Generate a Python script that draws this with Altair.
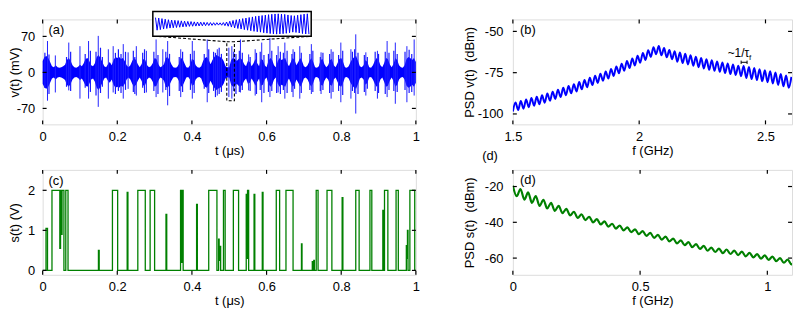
import altair as alt
import pandas as pd
import numpy as np

FONT = "Liberation Sans"
BLUE = "#0000ff"
GREEN = "#008000"

# ---------------- panel (a): v(t) ----------------
a_step = 0.005  # sampling of the envelope (us)
a_amp = [22, 30, 32, 28, 20, 12, 10, 14, 10, 9,
         10, 12, 15, 24, 28, 22, 14, 10, 9, 11,
         15, 12, 18, 26, 28, 22, 14, 12, 18, 30,
         34, 28, 20, 12, 10, 16, 20, 14, 24, 30,
         28, 30, 26, 28, 22, 14, 10, 14, 22, 28,
         24, 16, 10, 16, 26, 24, 14, 10, 12, 18,
         28, 26, 16, 10, 12, 16, 28, 30, 24, 16,
         10, 9, 10, 16, 28, 26, 18, 10, 9, 14,
         26, 24, 14, 10, 9, 12, 22, 28, 30, 24,
         16, 24, 30, 34, 32, 30, 28, 22, 12, 10,
         10, 24, 28, 26, 22, 26, 28, 24, 16, 12,
         22, 20, 12, 18, 26, 18, 12, 26, 24, 14,
         10, 22, 28, 24, 14, 10, 22, 28, 24, 26,
         28, 18, 12, 20, 28, 24, 14, 20, 28, 22,
         12, 10, 14, 22, 28, 20, 10, 9, 12, 24,
         26, 16, 10, 14, 24, 26, 14, 10, 18, 26,
         28, 20, 10, 9, 12, 20, 26, 30, 32, 22,
         12, 10, 14, 24, 20, 10, 9, 14, 22, 28,
         24, 14, 10, 18, 28, 26, 16, 10, 16, 28,
         24, 14, 10, 9, 14, 26, 30, 28, 24, 28,
         20]
a_spike_t = [0.013, 0.034, 0.070, 0.100, 0.123, 0.149, 0.176, 0.189, 0.216, 0.229,
             0.251, 0.278, 0.304, 0.322, 0.335, 0.370, 0.401, 0.441, 0.468, 0.499,
             0.507, 0.530, 0.552, 0.5695, 0.587, 0.609, 0.631, 0.649, 0.671, 0.689,
             0.720, 0.746, 0.773, 0.799, 0.826, 0.839, 0.866, 0.897, 0.923, 0.945,
             0.976, 0.9955]
a_spike_hi = [61, 33, 58, 51, 61, 71, 45, 51, 55, 39,
              51, 42, 64, 45, 61, 45, 61, 64, 45, 48,
              51, 64, 35, 45, 58, 67, 51, 58, 45, 51,
              55, 39, 45, 58, 45, 74, 39, 42, 61, 58,
              51, 64]
a_spike_lo = [-55, -39, -35, -51, -51, -67, -51, -39, -51, -32,
              -45, -39, -48, -39, -64, -48, -51, -58, -45, -48,
              -51, -39, -35, -45, -58, -48, -39, -51, -48, -51,
              -42, -42, -51, -58, -51, -80, -45, -51, -48, -61,
              -58, -45]
# smaller spikes inside the bursts
a_minor_t = [0.006, 0.017, 0.064, 0.075, 0.114, 0.128, 0.143, 0.155, 0.160, 0.195,
             0.203, 0.210, 0.222, 0.243, 0.247, 0.268, 0.273, 0.298, 0.309, 0.330,
             0.340, 0.366, 0.375, 0.396, 0.406, 0.433, 0.445, 0.458, 0.463, 0.473,
             0.479, 0.512, 0.518, 0.527, 0.535, 0.556, 0.573, 0.583, 0.593, 0.605,
             0.614, 0.627, 0.637, 0.645, 0.655, 0.668, 0.675, 0.693, 0.716, 0.724,
             0.744, 0.751, 0.769, 0.778, 0.793, 0.804, 0.830, 0.836, 0.845, 0.862,
             0.870, 0.891, 0.900, 0.918, 0.928, 0.941, 0.950, 0.971, 0.982, 0.989]
a_minor_hi = [38, 35, 30, 40, 36, 42, 40, 48, 30, 38,
              45, 36, 40, 42, 30, 38, 45, 40, 34, 40,
              36, 30, 40, 36, 42, 36, 45, 40, 38, 48,
              36, 40, 36, 42, 38, 30, 38, 40, 34, 36,
              42, 34, 40, 38, 42, 36, 40, 38, 36, 42,
              30, 38, 36, 40, 34, 42, 40, 45, 38, 34,
              30, 40, 36, 40, 38, 42, 36, 40, 44, 36]
a_minor_lo = [-30, -42, -28, -36, -30, -38, -45, -40, -28, -42,
              -36, -40, -34, -38, -42, -30, -40, -36, -42, -34,
              -46, -36, -38, -34, -40, -32, -40, -36, -48, -42,
              -38, -36, -42, -38, -34, -36, -42, -34, -40, -38,
              -36, -40, -42, -34, -40, -38, -32, -40, -34, -38,
              -36, -34, -40, -38, -36, -44, -36, -40, -42, -38,
              -32, -36, -40, -42, -34, -36, -38, -34, -40, -38]
a_xticks = [0, 0.2, 0.4, 0.6, 0.8, 1]
a_yticks = [-70, 0, 70]
zoom_t = [0.4934, 0.5138]
zoom_v = [-55, 59.6]
inset_v = [45, -44, 42, -40, 38, -36, 34, -32, 30, -29, 28, -27, 26, -25, 24, -23,
           22, -21, 20, -19, 18, -17, 17, -16, 15, -15, 14, -14, 13, -13, 12, -12,
           11, -11, 10, -10, 9, -9, 9, -8, 8, -9, 10, -12, 14, -16, 19, -22,
           25, -28, 30, -32, 34, -36, 38, -40, 42, -44, 46, -48, 50, -52, 54, -55,
           57, -58, 60, -62, 63, -65, 66, -68, 69, -70, 71, -72, 72, -71, 70, -69,
           68, -66, 64, -62, 60, -58, 58, -60, 62, -64, 66, -68, 70, -71, 72, -72]

# ---------------- panel (b): PSD of v(t) ----------------
b_f0, b_step = 1.5, 0.0105
b_psd = [-98.5, -93.1, -97.6, -92.2, -96.8, -91.3, -95.9, -90.4, -95.0, -89.6,
         -94.1, -88.7, -93.2, -87.6, -92.0, -86.5, -90.9, -85.3, -89.8, -84.2,
         -88.7, -83.1, -87.5, -82.0, -86.4, -80.7, -85.1, -79.4, -83.8, -78.1,
         -82.5, -76.8, -81.2, -75.6, -79.9, -74.3, -78.6, -72.8, -77.0, -71.2,
         -75.4, -69.6, -73.8, -68.0, -72.2, -66.4, -70.6, -64.8, -69.0, -63.1,
         -67.3, -61.4, -65.5, -59.6, -63.8, -58.9, -64.5, -60.1, -65.7, -61.3,
         -66.9, -62.0, -68.4, -62.8, -69.2, -63.6, -70.0, -64.4, -70.8, -65.3,
         -71.7, -66.1, -72.5, -66.9, -73.2, -67.5, -73.9, -68.2, -74.5, -68.8,
         -75.2, -69.5, -75.8, -70.1, -76.4, -70.8, -77.1, -70.9, -78.2, -71.6,
         -78.9, -72.2, -79.5, -72.9, -80.2, -73.5, -80.8, -74.1, -81.5, -74.9,
         -82.4, -75.8, -83.3, -76.7, -84.2, -77.6]
b_xticks = [1.5, 2, 2.5]
b_yticks = [-100, -75, -50]

# ---------------- panel (c): s(t) pulses ----------------
c_start = [0.009, 0.025, 0.048, 0.052, 0.062, 0.1495, 0.187, 0.2265, 0.255, 0.288,
           0.3305, 0.3695, 0.3735, 0.4125, 0.445, 0.4715, 0.4755, 0.4845, 0.511, 0.5455,
           0.549, 0.5665, 0.5885, 0.626, 0.652, 0.6935, 0.7225, 0.7265, 0.733, 0.762,
           0.8025, 0.839, 0.877, 0.9115, 0.916, 0.947, 0.9745, 0.9775, 0.984]
c_end = [0.013, 0.046, 0.051, 0.057, 0.068, 0.1515, 0.201, 0.2285, 0.275, 0.300,
         0.3325, 0.3715, 0.3765, 0.4145, 0.467, 0.4730, 0.4770, 0.4890, 0.525, 0.5475,
         0.552, 0.5685, 0.5905, 0.635, 0.671, 0.6950, 0.7240, 0.7280, 0.738, 0.775,
         0.8045, 0.848, 0.882, 0.9130, 0.925, 0.953, 0.976, 0.979, 0.997]
c_height = [1.05, 2, 2, 2, 2, 0.5, 2, 1.95, 2, 2,
            1.4, 2, 2, 1.65, 2, 0.78, 0.6, 2, 2, 1.9,
            2, 1.9, 1.95, 2, 2, 0.66, 0.22, 0.25, 2, 2,
            1.82, 2, 2, 1.5, 2, 2, 0.62, 1.0, 2]
c_base_after = [0, 0.55, 0.9, 0, 0, 0, 0, 0, 0, 0,
                0, 0.2, 0, 0, 0, 0.25, 0, 0, 0, 0.3,
                0, 0, 0, 0, 0, 0, 0, 0, 0, 0,
                0, 0, 0, 0, 0, 0, 0.3, 0, 0]
c_xticks = [0, 0.2, 0.4, 0.6, 0.8, 1]
c_yticks = [0, 1, 2]

# ---------------- panel (d): PSD of s(t) ----------------
d_step = 0.015
d_psd = [-19.5, -25.4, -21.4, -27.3, -23.3, -29.1, -25.3, -30.8, -27.4, -32.3,
         -29.1, -33.6, -30.8, -34.9, -32.5, -36.2, -34.1, -37.6, -35.5, -38.8,
         -36.9, -40.0, -38.2, -41.2, -39.5, -42.4, -40.8, -43.5, -41.8, -44.5,
         -42.8, -45.5, -43.9, -46.6, -44.9, -47.6, -45.9, -48.7, -47.0, -49.7,
         -48.0, -50.7, -49.1, -51.8, -50.1, -52.8, -51.1, -53.9, -52.2, -54.9,
         -53.2, -55.9, -54.1, -56.6, -54.7, -57.2, -55.2, -57.7, -55.8, -58.3,
         -56.4, -59.0, -57.1, -59.6, -57.8, -60.3, -58.5, -61.0, -59.2, -61.7,
         -60.0, -62.6, -60.8, -63.5, -61.7]
d_xticks = [0, 0.5, 1]
d_yticks = [-60, -40, -20]

# ---------------- helpers ----------------
one = pd.DataFrame({"k": [0]})


def xaxis(vals, title):
    return alt.Axis(values=vals, labelExpr="'' + datum.value", title=title,
                    grid=False, domain=False, ticks=False, tickSize=0,
                    labelPadding=6, labelFlush=False, labelOverlap=False,
                    labelFont=FONT, labelFontSize=13, labelColor="black",
                    titleFont=FONT, titleFontSize=13, titleFontWeight="normal",
                    titleColor="black", titleY=30, titleBaseline="alphabetic")


def yaxis(vals, title, lp, tx):
    return alt.Axis(values=vals, labelExpr="'' + datum.value", title=title,
                    grid=False, domain=False, ticks=False, tickSize=0,
                    labelPadding=lp, labelFlush=False, labelOverlap=False,
                    labelFont=FONT, labelFontSize=13, labelColor="black",
                    titleFont=FONT, titleFontSize=13, titleFontWeight="normal",
                    titleColor="black", titleX=tx, titleBaseline="middle")


def tick_layers(xv, yv, xs, ys, xa, ya, W, H, L=4):
    dx = pd.DataFrame({"v": xv})
    dy = pd.DataFrame({"v": yv})
    out = []
    for (p1, p2) in [(0, L), (H, H - L)]:
        out.append(alt.Chart(dx).mark_rule(color="black", strokeWidth=1.2).encode(
            x=alt.X("v:Q", scale=xs, axis=xa), y=alt.value(p1), y2=alt.value(p2)))
    for (p1, p2) in [(0, L), (W, W - L)]:
        out.append(alt.Chart(dy).mark_rule(color="black", strokeWidth=1.2).encode(
            y=alt.Y("v:Q", scale=ys, axis=ya), x=alt.value(p1), x2=alt.value(p2)))
    return out


def panel_label(txt, x, y):
    return alt.Chart(pd.DataFrame({"s": [txt]})).mark_text(
        align="left", baseline="middle", font=FONT, fontSize=13, color="black"
    ).encode(text="s:N", x=alt.value(x), y=alt.value(y))


W1, W2, H = 377, 282, 106

# ---------------- build (a) ----------------
xs_a = alt.Scale(domain=[0, 1], nice=False, zero=False)
ys_a = alt.Scale(domain=[-101, 103], nice=False, zero=False)
xa_a = xaxis(a_xticks, "t (μs)")
ya_a = yaxis(a_yticks, "v(t) (mV)", 8, -28)

df_a = pd.DataFrame({"t": np.arange(len(a_amp)) * a_step, "hi": a_amp})
df_a["lo"] = -df_a["hi"]
df_sp = pd.DataFrame({"t": a_spike_t, "hi": a_spike_hi, "lo": a_spike_lo})
df_mi = pd.DataFrame({"t": a_minor_t, "hi": a_minor_hi, "lo": a_minor_lo})

area_a = alt.Chart(df_a).mark_area(color=BLUE, opacity=1).encode(
    x=alt.X("t:Q", scale=xs_a, axis=xa_a),
    y=alt.Y("hi:Q", scale=ys_a, axis=ya_a), y2="lo:Q")
mi_a = alt.Chart(df_mi).mark_rule(color="#1a1aff", strokeWidth=1.2).encode(
    x=alt.X("t:Q", scale=xs_a, axis=xa_a),
    y=alt.Y("hi:Q", scale=ys_a, axis=ya_a), y2="lo:Q")
spk_a = alt.Chart(df_sp).mark_rule(color="#2222ff", strokeWidth=1).encode(
    x=alt.X("t:Q", scale=xs_a, axis=xa_a),
    y=alt.Y("hi:Q", scale=ys_a, axis=ya_a), y2="lo:Q")
zoom_df = pd.DataFrame({"t1": [zoom_t[0]], "t2": [zoom_t[1]],
                        "v1": [zoom_v[0]], "v2": [zoom_v[1]]})
zoom_rect = alt.Chart(zoom_df).mark_rect(
    fillOpacity=0, stroke="black", strokeWidth=1.1, strokeDash=[3, 2]).encode(
    x=alt.X("t1:Q", scale=xs_a, axis=xa_a), x2="t2:Q",
    y=alt.Y("v1:Q", scale=ys_a, axis=ya_a), y2="v2:Q")
link_df = pd.DataFrame({"ta": [0.31, 0.714], "va": [70, 70],
                        "tb": [zoom_t[0], zoom_t[1]], "vb": [zoom_v[1], zoom_v[1]]})
links = alt.Chart(link_df).mark_rule(color="black", strokeWidth=1.1, strokeDash=[3, 2]).encode(
    x=alt.X("ta:Q", scale=xs_a, axis=xa_a), x2="tb:Q",
    y=alt.Y("va:Q", scale=ys_a, axis=ya_a), y2="vb:Q")
main_a = alt.layer(area_a, mi_a, spk_a, zoom_rect, links,
                   *tick_layers(a_xticks, a_yticks, xs_a, ys_a, xa_a, ya_a, W1, H),
                   panel_label("(a)", 6, 10.5))

inset_df = pd.DataFrame({"i": np.arange(len(inset_v)), "v": inset_v})
inset_box = alt.Chart(one).mark_rect(fill="white", stroke="black", strokeWidth=1.5).encode(
    x=alt.value(111.3), x2=alt.value(271.3), y=alt.value(-7.9), y2=alt.value(17.1))
inset_line = alt.Chart(inset_df).mark_line(color=BLUE, strokeWidth=1).encode(
    x=alt.X("i:Q", scale=alt.Scale(domain=[0, len(inset_v) - 1], range=[114, 269], nice=False, zero=False), axis=None),
    y=alt.Y("v:Q", scale=alt.Scale(domain=[-80, 80], range=[16.0, -6.8], nice=False, zero=False), axis=None))
inset = alt.layer(inset_box, inset_line)

panel_a = alt.layer(main_a, inset).resolve_scale(x="independent", y="independent").properties(width=W1, height=H)

# ---------------- build (b) ----------------
xs_b = alt.Scale(domain=[1.5, 2.605], nice=False, zero=False)
ys_b = alt.Scale(domain=[-106.3, -42.75], nice=False, zero=False)
xa_b = xaxis(b_xticks, "f (GHz)")
ya_b = yaxis(b_yticks, "PSD v(t)\u00a0 (dBm)", 10, -43.7)
df_b = pd.DataFrame({"f": b_f0 + np.arange(len(b_psd)) * b_step, "p": b_psd})
line_b = alt.Chart(df_b).mark_line(color=BLUE, strokeWidth=2, clip=True,
                                   interpolate="monotone").encode(
    x=alt.X("f:Q", scale=xs_b, axis=xa_b), y=alt.Y("p:Q", scale=ys_b, axis=ya_b))
ann1 = alt.Chart(pd.DataFrame({"s": ["~1/τ"]})).mark_text(
    align="left", baseline="alphabetic", font=FONT, fontSize=12, color="black").encode(
    text="s:N", x=alt.value(217), y=alt.value(37.5))
ann2 = alt.Chart(pd.DataFrame({"s": ["f"]})).mark_text(
    align="left", baseline="alphabetic", font=FONT, fontSize=8, color="black").encode(
    text="s:N", x=alt.value(238.5), y=alt.value(40.5))
br1 = alt.Chart(one).mark_rule(color="black", strokeWidth=1).encode(
    x=alt.value(230.6), x2=alt.value(236.6), y=alt.value(43.3))
br2 = alt.Chart(one).mark_rule(color="black", strokeWidth=1).encode(
    x=alt.value(230.6), y=alt.value(41.6), y2=alt.value(45))
br3 = alt.Chart(one).mark_rule(color="black", strokeWidth=1).encode(
    x=alt.value(236.6), y=alt.value(41.6), y2=alt.value(45))
panel_b = alt.layer(line_b,
                    *tick_layers(b_xticks, b_yticks, xs_b, ys_b, xa_b, ya_b, W2, H),
                    panel_label("(b)", 7.3, 10.5), panel_label("(d)", -31, 138.3),
                    ann1, ann2, br1, br2, br3).properties(width=W2, height=H)

# ---------------- build (c) ----------------
xs_c = alt.Scale(domain=[0, 1], nice=False, zero=False)
ys_c = alt.Scale(domain=[-0.11, 2.51], nice=False, zero=False)
xa_c = xaxis(c_xticks, "t (μs)")
ya_c = yaxis(c_yticks, "s(t) (V)", 8, -28)
pts_t, pts_v = [0.0], [0.0]
level = 0.0
for s, e, h, b in zip(c_start, c_end, c_height, c_base_after):
    pts_t += [s, s, e, e]
    pts_v += [level, h, h, b]
    level = b
pts_t.append(1.0)
pts_v.append(level)
df_c = pd.DataFrame({"t": pts_t, "v": pts_v, "o": np.arange(len(pts_t))})
line_c = alt.Chart(df_c).mark_line(color=GREEN, strokeWidth=1.3).encode(
    x=alt.X("t:Q", scale=xs_c, axis=xa_c), y=alt.Y("v:Q", scale=ys_c, axis=ya_c),
    order="o:Q")
panel_c = alt.layer(line_c,
                    *tick_layers(c_xticks, c_yticks, xs_c, ys_c, xa_c, ya_c, W1, H),
                    panel_label("(c)", 6, 11)).properties(width=W1, height=H)

# ---------------- build (d) ----------------
xs_d = alt.Scale(domain=[0, 1.097], nice=False, zero=False)
ys_d = alt.Scale(domain=[-69.35, -10.7], nice=False, zero=False)
xa_d = xaxis(d_xticks, "f (GHz)")
ya_d = yaxis(d_yticks, "PSD s(t)\u00a0 (dBm)", 10, -43.7)
df_d = pd.DataFrame({"f": np.arange(len(d_psd)) * d_step, "p": d_psd})
line_d = alt.Chart(df_d).mark_line(color=GREEN, strokeWidth=2.2, clip=True,
                                   interpolate="monotone").encode(
    x=alt.X("f:Q", scale=xs_d, axis=xa_d), y=alt.Y("p:Q", scale=ys_d, axis=ya_d))
panel_d = alt.layer(line_d,
                    *tick_layers(d_xticks, d_yticks, xs_d, ys_d, xa_d, ya_d, W2, H),
                    panel_label("(d)", 7.3, 10.5)).properties(width=W2, height=H)

chart = alt.concat(panel_a, panel_b, panel_c, panel_d, columns=2,
                   spacing={"row": 46, "column": 98}, bounds="flush").properties(
    padding={"left": 0, "top": 0, "right": 0, "bottom": 0}
).configure_view(stroke="black", strokeWidth=2).configure(font=FONT, background="white")

chart.save("out.html", embed_options={"renderer": "svg", "actions": False})
